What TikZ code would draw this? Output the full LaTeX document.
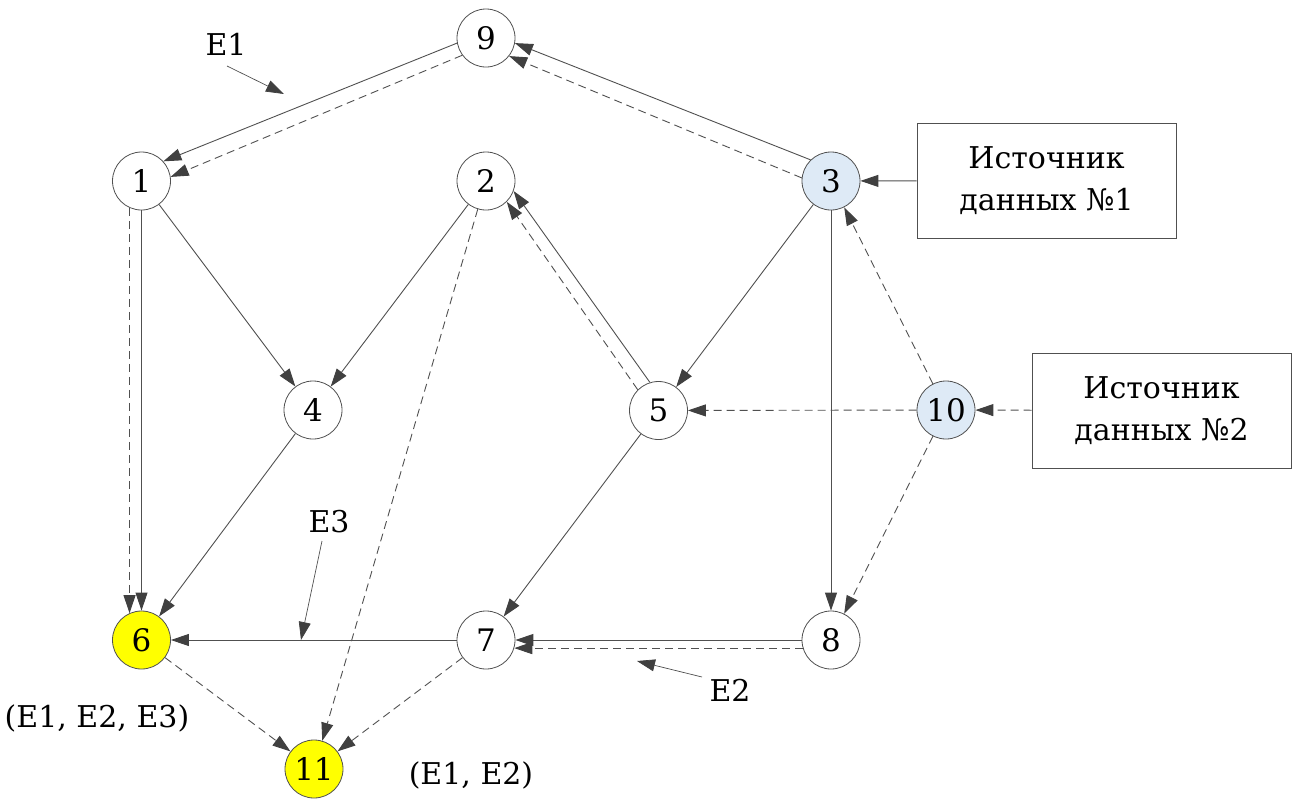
\documentclass[tikz,border=0pt]{standalone}
\usepackage{fontspec}
\setmainfont{DejaVu Serif}
\newfontfamily\tnr{DejaVu Serif}
\usetikzlibrary{arrows.meta}
\definecolor{ln}{HTML}{505050}
\definecolor{ah}{HTML}{404040}
\definecolor{bl}{HTML}{DEEAF6}
\definecolor{yl}{HTML}{FFFF00}
\begin{document}
\begin{tikzpicture}[x=1pt,y=-1pt,
  vert/.style={circle, draw=ln, line width=0.8pt, minimum size=58pt, inner sep=0pt,
    font=\tnr\fontsize{31}{36}\selectfont, fill=white},
  src/.style={draw=ln, line width=0.8pt, minimum width=259pt, minimum height=115pt,
    align=center, font=\tnr\fontsize{30}{42}\selectfont},
  lbl/.style={font=\tnr\fontsize{30}{36}\selectfont, inner sep=0pt},
  edge/.style={draw=ln, line width=0.9pt, -{Triangle[length=18pt,width=12pt,color=ah]}},
  dsh/.style={edge, dash pattern=on 8pt off 5pt},
  ptr/.style={draw=ln, line width=0.7pt, -{Triangle[length=18pt,width=12pt,color=ah]}}]
\useasboundingbox (0,0) rectangle (1293,798);
% vertices
\node[vert] (n9) at (486,38) {9};
\node[vert] (n1) at (141.5,181) {1};
\node[vert] (n2) at (486,181) {2};
\node[vert, fill=bl] (n3) at (831,181) {3};
\node[vert] (n4) at (313,410) {4};
\node[vert] (n5) at (658.5,410.5) {5};
\node[vert, fill=bl] (n10) at (946,410) {10};
\node[vert, fill=yl] (n6) at (141.5,640) {6};
\node[vert] (n7) at (486,640) {7};
\node[vert] (n8) at (831,640) {8};
\node[vert, fill=yl] (n11) at (314,769) {11};
% sources
\node[src] (s1) at (1046.5,180.5) {Источник\\данных №1};
\node[src] (s2) at (1161.5,410.5) {Источник\\данных №2};
% edges
\draw[edge] (n9.190) -- (n1.42);
\draw[dsh] (n9.216) -- (n1.8);
\draw[edge] (n3.134) -- (n9.350);
\draw[dsh] (n3.174) -- (n9.322);
\draw[edge] (n1) -- (n6);
\draw[dsh] (n1.246) -- (n6.114);
\draw[edge] (n1) -- (n4);
\draw[edge] (n2) -- (n4);
\draw[dsh] (n2) -- (n11);
\draw[edge] (n5.107) -- (n2.340);
\draw[dsh] (n5.135) -- (n2.315);
\draw[edge] (n3) -- (n5);
\draw[edge] (n3) -- (n8);
\draw[dsh] (n10) -- (n3);
\draw[dsh] (n10) -- (n5);
\draw[dsh] (n10) -- (n8);
\draw[edge] (s1) -- (n3);
\draw[dsh] (s2) -- (n10);
\draw[edge] (n4) -- (n6);
\draw[edge] (n5) -- (n7);
\draw[edge] (n7) -- (n6);
\draw[edge] (n8) -- (n7);
\draw[dsh] (n8.196) -- (n7.344);
\draw[dsh] (n6) -- (n11);
\draw[dsh] (n7) -- (n11);
% labels
\node[lbl] (e1) at (226,44) {E1};
\coordinate (e1a) at (227,66);
\coordinate (e1b) at (284,94);
\draw[ptr] (e1a) -- (e1b);
\node[lbl] (e3) at (329,522) {E3};
\coordinate (e3a) at (322,541);
\coordinate (e3b) at (301,640);
\draw[ptr] (e3a) -- (e3b);
\node[lbl] (e2) at (730,690) {E2};
\coordinate (e2a) at (702,677);
\coordinate (e2b) at (637,661);
\draw[ptr] (e2a) -- (e2b);
\node[lbl] (l6) at (97,718) {(E1, E2, E3)};
\node[lbl] (l11) at (471,775) {(E1, E2)};
\end{tikzpicture}
\end{document}
